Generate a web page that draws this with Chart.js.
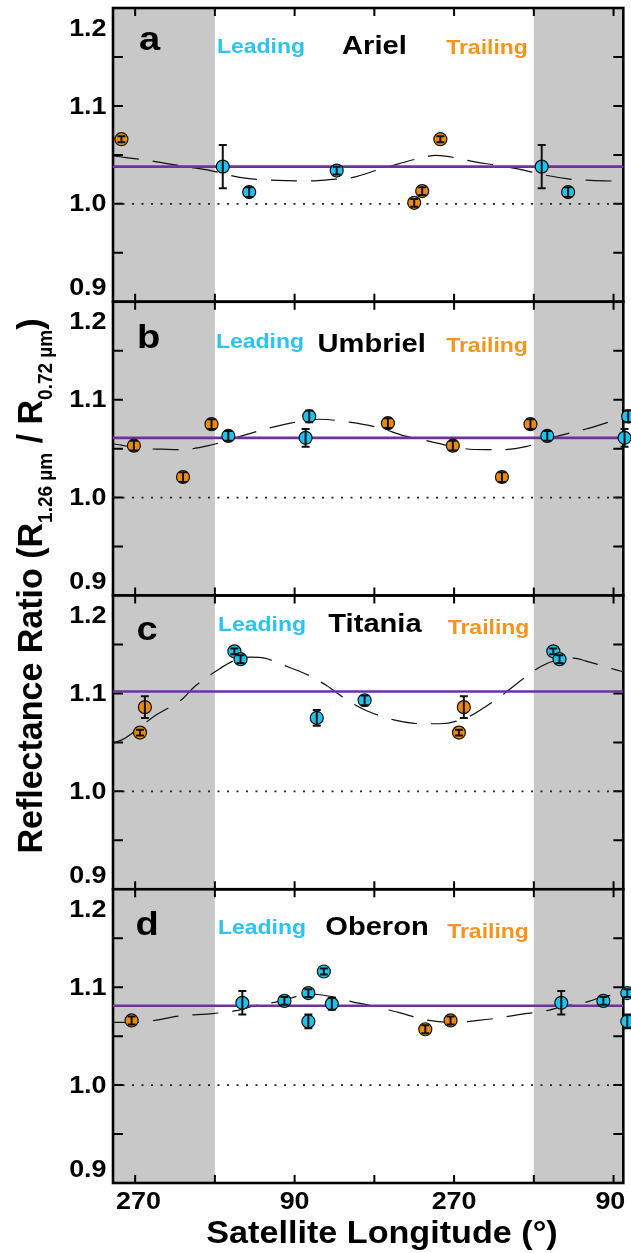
<!DOCTYPE html>
<html lang="en">
<head>
<meta charset="utf-8">
<title>Reflectance ratio vs satellite longitude</title>
<script src="https://cdn.jsdelivr.net/npm/chart.js@4.4.1/dist/chart.umd.min.js"></script>
<style>
  html, body { margin: 0; padding: 0; background: #ffffff; }
  canvas { display: block; }
</style>
</head>
<body>
<canvas id="chart" width="631" height="1253"></canvas>
<script>
// ---------------- values ----------------
const xTickValues = [270, 360, 450, 540, 630, 720, 810];
const xTickLabels = ['270', '', '90', '', '270', '', '90'];
const yTickValues = [0.95, 1.0, 1.05, 1.1, 1.15];
const yLabelValues = [1.2, 1.1, 1.0, 0.9];
const yLabelTexts = ['1.2', '1.1', '1.0', '0.9'];
const referenceRatio = 1.0;
const nearSideLon = [360, 720];          // unshaded span = one rotation (0°–360°)

// Ariel
const arielLeadLon   = [8.9, 38.7, 137.5];
const arielLeadRatio = [1.038, 1.012, 1.034];
const arielLeadErr   = [0.022, 0.005, 0.004];
const arielTrailLon   = [225, 234, 254.5];
const arielTrailRatio = [1.001, 1.013, 1.066];
const arielTrailErr   = [0.004, 0.004, 0.003];
const arielMean = 1.038;
const arielFitLon   = [245, 262, 280, 300, 327, 355, 388, 407, 440, 470, 489, 516, 545, 568, 598, 609, 620, 658, 675, 711, 729, 763, 784, 821];
const arielFitRatio = [1.049, 1.047, 1.045, 1.042, 1.038, 1.034, 1.027, 1.025, 1.0237, 1.0235, 1.0247, 1.027, 1.035, 1.041, 1.048, 1.0495, 1.0488, 1.042, 1.040, 1.034, 1.030, 1.025, 1.024, 1.023];

// Umbriel
const umbrielLeadLon   = [15.2, 102.4, 106.5];
const umbrielLeadRatio = [1.063, 1.061, 1.083];
const umbrielLeadErr   = [0.005, 0.009, 0.006];
const umbrielTrailLon   = [195.3, 268.6, 324, 356.2];
const umbrielTrailRatio = [1.076, 1.053, 1.021, 1.075];
const umbrielTrailErr   = [0.005, 0.005, 0.005, 0.005];
const umbrielMean = 1.061;
const umbrielFitLon   = [245, 265, 281, 300, 322, 353, 380, 407, 440, 478, 512, 547, 574, 600, 642, 665, 684, 711, 748, 779, 813, 821];
const umbrielFitRatio = [1.055, 1.052, 1.050, 1.0495, 1.049, 1.053, 1.060, 1.0675, 1.075, 1.080, 1.077, 1.071, 1.063, 1.058, 1.050, 1.049, 1.049, 1.052, 1.063, 1.070, 1.079, 1.080];

// Titania
const titaniaLeadLon   = [22, 29, 115, 169];
const titaniaLeadRatio = [1.143, 1.135, 1.075, 1.093];
const titaniaLeadErr   = [0.003, 0.004, 0.008, 0.005];
const titaniaTrailLon   = [275.5, 281];
const titaniaTrailRatio = [1.060, 1.086];
const titaniaTrailErr   = [0.003, 0.011];
const titaniaMean = 1.102;
const titaniaFitLon   = [245, 258, 292, 323, 336, 365, 383, 400, 416, 437, 467, 486, 513, 532, 562, 585, 600, 615, 646, 668, 684, 711, 729, 750, 765, 779, 813, 821];
const titaniaFitRatio = [1.049, 1.054, 1.077, 1.094, 1.106, 1.125, 1.134, 1.137, 1.136, 1.129, 1.118, 1.108, 1.091, 1.082, 1.073, 1.0695, 1.069, 1.069, 1.076, 1.088, 1.098, 1.117, 1.128, 1.135, 1.136, 1.133, 1.124, 1.122];

// Oberon
const oberonLeadLon   = [31, 78.5, 105.5, 105.5, 123, 132];
const oberonLeadRatio = [1.084, 1.086, 1.094, 1.065, 1.116, 1.083];
const oberonLeadErr   = [0.012, 0.004, 0.004, 0.007, 0.003, 0.006];
const oberonTrailLon   = [237.5, 266];
const oberonTrailRatio = [1.057, 1.066];
const oberonTrailErr   = [0.004, 0.004];
const oberonMean = 1.081;
const oberonFitLon   = [245, 272, 292, 319, 357, 384, 407, 433, 467, 494, 515, 532, 550, 568, 596, 630, 657, 676, 710, 729, 752, 782, 801, 821];
const oberonFitRatio = [1.064, 1.064, 1.066, 1.0705, 1.073, 1.076, 1.0815, 1.0855, 1.093, 1.090, 1.085, 1.082, 1.078, 1.074, 1.067, 1.064, 1.066, 1.068, 1.073, 1.075, 1.080, 1.0855, 1.091, 1.092];

const panelLetters = ['a', 'b', 'c', 'd'];
const moonNames = ['Ariel', 'Umbriel', 'Titania', 'Oberon'];

// ---------------- styling / layout ----------------
const X_MIN = 245, X_MAX = 821;
const CYAN = '#1ec4ee', ORANGE = '#ec8a0e', PURPLE = '#7030a0', SHADE = '#c8c8c8';
const CYAN_TEXT = '#2cc3ec', ORANGE_TEXT = '#f5951f';
const FONT = '"Liberation Sans", Arial, Helvetica, sans-serif';
const SX = 1.12;   // horizontal stretch of the lettering in the figure

const panelText = [
  { letter: [139, 50],    lead: [261, 53.3],  name: [374.4, 53.5], trail: [487, 54] },
  { letter: [137, 348.3], lead: [260, 348.2], name: [371.7, 351.6], trail: [487, 351.6] },
  { letter: [136.6, 640], lead: [262, 630.6], name: [375, 632.3],   trail: [488.5, 634] },
  { letter: [135.6, 935], lead: [262, 934],   name: [377, 934.9],   trail: [488, 938.2] }
];

const panels = [
  { lead: [arielLeadLon, arielLeadRatio, arielLeadErr], trail: [arielTrailLon, arielTrailRatio, arielTrailErr], mean: arielMean, fit: [arielFitLon, arielFitRatio] },
  { lead: [umbrielLeadLon, umbrielLeadRatio, umbrielLeadErr], trail: [umbrielTrailLon, umbrielTrailRatio, umbrielTrailErr], mean: umbrielMean, fit: [umbrielFitLon, umbrielFitRatio] },
  { lead: [titaniaLeadLon, titaniaLeadRatio, titaniaLeadErr], trail: [titaniaTrailLon, titaniaTrailRatio, titaniaTrailErr], mean: titaniaMean, fit: [titaniaFitLon, titaniaFitRatio] },
  { lead: [oberonLeadLon, oberonLeadRatio, oberonLeadErr], trail: [oberonTrailLon, oberonTrailRatio, oberonTrailErr], mean: oberonMean, fit: [oberonFitLon, oberonFitRatio] }
];

// the longitude axis repeats every 360°, so each measurement is plotted at each copy inside the plotted window
// (left unsorted on purpose so Chart.js keeps the copies that sit just past the right edge)
function wrapPoints(lons, vals, errs) {
  const out = [];
  lons.forEach((lon, i) => {
    [-360, 0, 360, 720].forEach(k => {
      const x = lon + k;
      if (x >= X_MIN && x <= X_MAX + 10) out.push({ x: x, y: vals[i], e: errs[i] });
    });
  });
  return out;
}

const datasets = [];
panels.forEach((p, i) => {
  const yID = 'y' + i;
  const pointStyle = (color) => ({
    showLine: false, pointRadius: 6.5, pointHoverRadius: 6.5, pointBackgroundColor: color,
    pointBorderColor: '#111', pointBorderWidth: 1.2, borderColor: color, backgroundColor: color
  });
  datasets.push(Object.assign({ label: moonNames[i] + ' leading', data: wrapPoints(...p.lead), yAxisID: yID, errorBars: true, order: 1, clip: false }, pointStyle(CYAN)));
  datasets.push(Object.assign({ label: moonNames[i] + ' trailing', data: wrapPoints(...p.trail), yAxisID: yID, errorBars: true, order: 1, clip: false }, pointStyle(ORANGE)));
  datasets.push({ label: moonNames[i] + ' mean', data: [{ x: X_MIN, y: p.mean }, { x: X_MAX, y: p.mean }], yAxisID: yID,
    borderColor: PURPLE, borderWidth: 2.6, pointRadius: 0, order: 2, clip: 0 });
  datasets.push({ label: moonNames[i] + ' fit', data: p.fit[0].map((x, k) => ({ x: x, y: p.fit[1][k] })), yAxisID: yID,
    borderColor: '#111', borderWidth: 1.2, borderDash: [26, 14], cubicInterpolationMode: 'monotone', pointRadius: 0, order: 3, clip: 0 });
  datasets.push({ label: moonNames[i] + ' unity', data: [{ x: X_MIN, y: referenceRatio }, { x: X_MAX, y: referenceRatio }], yAxisID: yID,
    borderColor: '#222', borderWidth: 1.6, borderDash: [2, 7.5], pointRadius: 0, order: 4, clip: 0 });
});

const scales = {
  x: { type: 'linear', min: X_MIN, max: X_MAX, position: 'bottom',
       ticks: { display: false, stepSize: 90 }, grid: { display: false }, border: { display: false },
       afterFit(s) { s.height = 0; } }
};
// defined bottom-to-top so that panel "a" is stacked at the top
for (let i = panels.length - 1; i >= 0; i--) {
  scales['y' + i] = { type: 'linear', min: 0.9, max: 1.2, position: 'left', stack: 'moons', stackWeight: 1,
    ticks: { display: false }, grid: { display: false }, border: { display: false },
    afterFit(s) { s.width = 0; } };
}

function drawText(ctx, s, x, y, size, color, align, baseline, sx) {
  ctx.save();
  ctx.font = 'bold ' + size + 'px ' + FONT;
  ctx.fillStyle = color;
  ctx.textBaseline = baseline || 'alphabetic';
  ctx.textAlign = 'left';
  const w = ctx.measureText(s).width * sx;
  const x0 = align === 'center' ? x - w / 2 : (align === 'right' ? x - w : x);
  ctx.translate(x0, y);
  ctx.scale(sx, 1);
  ctx.fillText(s, 0, 0);
  ctx.restore();
}

const yTitleParts = [
  { t: 'Reflectance Ratio (R', sub: false },
  { t: '1.26 µm', sub: true },
  { t: ' / R', sub: false },
  { t: '0.72 µm', sub: true },
  { t: ')', sub: false }
];

const decor = {
  id: 'decor',
  beforeDatasetsDraw(chart) {
    const ctx = chart.ctx, xs = chart.scales.x;
    ctx.save();
    panels.forEach((p, i) => {
      const ys = chart.scales['y' + i];
      const L = xs.left, R = xs.right, T = ys.top, B = ys.bottom;
      // far-side shading
      ctx.fillStyle = SHADE;
      const x1 = xs.getPixelForValue(nearSideLon[0]);
      const x2 = xs.getPixelForValue(nearSideLon[1]);
      ctx.fillRect(L, T, x1 - L, B - T);
      ctx.fillRect(x2, T, R - x2, B - T);
      // inward tick marks
      ctx.strokeStyle = '#000';
      ctx.lineWidth = 2;
      ctx.beginPath();
      yTickValues.forEach(v => {
        const py = ys.getPixelForValue(v);
        ctx.moveTo(L, py); ctx.lineTo(L + 10, py);
        ctx.moveTo(R, py); ctx.lineTo(R - 10, py);
      });
      xTickValues.forEach(v => {
        const px = xs.getPixelForValue(v);
        ctx.moveTo(px, T); ctx.lineTo(px, T + 8);
        ctx.moveTo(px, B); ctx.lineTo(px, B - 8);
      });
      ctx.stroke();
      // frame
      ctx.lineWidth = 2.6;
      ctx.strokeRect(L, T, R - L, B - T);
    });
    ctx.restore();
  },
  afterDatasetsDraw(chart) {
    const ctx = chart.ctx, xs = chart.scales.x;
    chart.data.datasets.forEach(ds => {
      if (!ds.errorBars) return;
      const ys = chart.scales[ds.yAxisID];
      ctx.save();
      ctx.beginPath();
      ctx.rect(xs.left - 10, ys.top, xs.right - xs.left + 20, ys.bottom - ys.top);
      ctx.clip();
      ctx.strokeStyle = '#111';
      ctx.lineWidth = 2;
      ds.data.forEach(d => {
        const px = xs.getPixelForValue(d.x);
        const y1 = ys.getPixelForValue(d.y + d.e);
        const y2 = ys.getPixelForValue(d.y - d.e);
        ctx.beginPath();
        ctx.moveTo(px, y1); ctx.lineTo(px, y2);
        ctx.moveTo(px - 4, y1); ctx.lineTo(px + 4, y1);
        ctx.moveTo(px - 4, y2); ctx.lineTo(px + 4, y2);
        ctx.stroke();
      });
      ctx.restore();
    });
  },
  afterDraw(chart) {
    const ctx = chart.ctx, xs = chart.scales.x;
    ctx.save();
    panels.forEach((p, i) => {
      const ys = chart.scales['y' + i];
      const T = ys.top, B = ys.bottom;
      // y tick labels (end labels kept inside their panel)
      yLabelValues.forEach((v, k) => {
        let py = ys.getPixelForValue(v) + 1;
        if (v >= 1.2) py = T + 21;
        if (v <= 0.9) py = B - 13;
        drawText(ctx, yLabelTexts[k], 106.5, py, 24, '#000', 'right', 'middle', SX);
      });
      // panel annotations
      const pt = panelText[i];
      drawText(ctx, panelLetters[i], pt.letter[0], pt.letter[1], 34, '#000', 'left', 'alphabetic', SX);
      drawText(ctx, 'Leading', pt.lead[0], pt.lead[1], 20.5, CYAN_TEXT, 'center', 'alphabetic', SX);
      drawText(ctx, moonNames[i], pt.name[0], pt.name[1], 26, '#000', 'center', 'alphabetic', SX);
      drawText(ctx, 'Trailing', pt.trail[0], pt.trail[1], 20.5, ORANGE_TEXT, 'center', 'alphabetic', SX);
    });
    // x tick labels
    const bottom = chart.chartArea.bottom;
    ctx.font = 'bold 24px ' + FONT;
    xTickValues.forEach((v, k) => {
      const s = xTickLabels[k];
      if (!s) return;
      const w = ctx.measureText(s).width * SX;
      let cx = xs.getPixelForValue(v);
      cx = Math.max(cx, xs.left + 3 + w / 2);
      cx = Math.min(cx, xs.right + 2 - w / 2);
      drawText(ctx, s, cx, bottom + 26, 24, '#000', 'center', 'alphabetic', SX);
    });
    // x axis title
    drawText(ctx, 'Satellite Longitude (°)', 382, bottom + 60, 30.5, '#000', 'center', 'alphabetic', SX);
    // y axis title (rotated, with subscripts)
    ctx.save();
    ctx.translate(41.5, 586);
    ctx.scale(1.05, 1);
    ctx.rotate(-Math.PI / 2);
    ctx.fillStyle = '#000';
    ctx.textBaseline = 'alphabetic';
    let total = 0;
    yTitleParts.forEach(part => {
      ctx.font = 'bold ' + (part.sub ? 19 : 34) + 'px ' + FONT;
      part.w = ctx.measureText(part.t).width;
      total += part.w;
    });
    let cx = -total / 2;
    yTitleParts.forEach(part => {
      ctx.font = 'bold ' + (part.sub ? 19 : 34) + 'px ' + FONT;
      ctx.fillText(part.t, cx, part.sub ? 10 : 0);
      cx += part.w;
    });
    ctx.restore();
    ctx.restore();
  }
};

new Chart(document.getElementById('chart'), {
  type: 'line',
  data: { datasets: datasets },
  options: {
    responsive: false,
    devicePixelRatio: 1,
    animation: false,
    events: [],
    layout: { padding: { left: 113, right: 5, top: 8, bottom: 70 } },
    plugins: { legend: { display: false }, tooltip: { enabled: false } },
    scales: scales
  },
  plugins: [decor]
});
</script>
</body>
</html>
